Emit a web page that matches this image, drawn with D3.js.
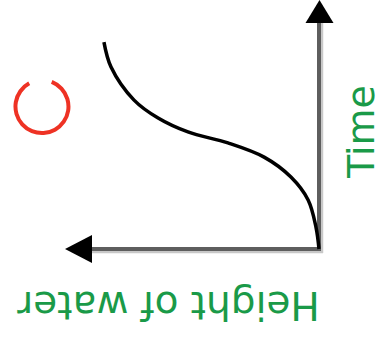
<!DOCTYPE html>
<html>
<head>
<meta charset="utf-8">
<script src="https://cdn.jsdelivr.net/npm/d3@7"></script>
<style>
  body { margin: 0; background: #fff; }
  svg { display: block; }
</style>
</head>
<body>
<div id="chart"></div>
<script>
// values (height of water grows to the left)
const heightOfWater = [8.5, 8.22, 7.31, 6.36, 5.18, 3.6, 2.17, 1.11, 0.43, 0.12, 0];
const timeValues = [8.31, 7.31, 5.98, 5.26, 4.7, 4.26, 3.69, 2.89, 1.97, 0.88, 0];
const axisLabels = ["Height of water", "Time"];
const circleMark = [10.95, 5.72];

let width = 384, height = 337;

let svg = d3.select("#chart").append("svg")
    .attr("width", width)
    .attr("height", height);

let x = d3.scaleLinear().domain([0, 10]).range([319, 66]);
let y = d3.scaleLinear().domain([0, 10]).range([249, 0]);

// axes (dark stroke with a light grey edge)
let axisG = svg.append("g");

axisG.append("line")
    .attr("x1", x(0) + 3).attr("y1", y(0) + 4)
    .attr("x2", x(0) + 3).attr("y2", y(10) + 20)
    .attr("stroke", "#c8c8c8")
    .attr("stroke-width", 2.5);

axisG.append("line")
    .attr("x1", x(0) + 4).attr("y1", y(0) + 3)
    .attr("x2", x(10) + 24).attr("y2", y(0) + 3)
    .attr("stroke", "#c8c8c8")
    .attr("stroke-width", 2.5);

axisG.append("line")
    .attr("x1", x(0)).attr("y1", y(0) + 2)
    .attr("x2", x(0)).attr("y2", y(10) + 20)
    .attr("stroke", "#5e5e5e")
    .attr("stroke-width", 4);

axisG.append("line")
    .attr("x1", x(0) + 2).attr("y1", y(0))
    .attr("x2", x(10) + 24).attr("y2", y(0))
    .attr("stroke", "#5e5e5e")
    .attr("stroke-width", 4);

// arrow heads
axisG.append("path")
    .attr("d", `M${x(0) + 0.5},${y(10)} L${x(0) + 14.5},${y(10) + 23} L${x(0) - 13.5},${y(10) + 23} Z`)
    .attr("fill", "#000");

axisG.append("path")
    .attr("d", `M${x(10) - 1},${y(0)} L${x(10) + 26},${y(0) - 14} L${x(10) + 26},${y(0) + 14} Z`)
    .attr("fill", "#000");

// curve
let pts = heightOfWater.map((h, i) => [h, timeValues[i]]);
let line = d3.line()
    .x(d => x(d[0]))
    .y(d => y(d[1]))
    .curve(d3.curveCatmullRom);

svg.append("path")
    .datum(pts)
    .attr("d", line)
    .attr("fill", "none")
    .attr("stroke", "#000")
    .attr("stroke-width", 3.5);

// red open circle
let arc = d3.arc()
    .innerRadius(24.5)
    .outerRadius(28.5)
    .startAngle(Math.PI * 0.12)
    .endAngle(Math.PI * 1.84);

svg.append("path")
    .attr("transform", `translate(${x(circleMark[0])},${y(circleMark[1])})`)
    .attr("d", arc)
    .attr("fill", "#ee3224");

// labels
svg.append("text")
    .attr("transform", `translate(168.5,292) rotate(180)`)
    .attr("text-anchor", "middle")
    .attr("font-family", "DejaVu Sans")
    .attr("font-size", 39)
    .attr("fill", "#1a9a48")
    .text(axisLabels[0]);

svg.append("text")
    .attr("transform", `translate(374,131.5) rotate(-90)`)
    .attr("text-anchor", "middle")
    .attr("font-family", "DejaVu Sans")
    .attr("font-size", 38)
    .attr("fill", "#1a9a48")
    .text(axisLabels[1]);
</script>
</body>
</html>
